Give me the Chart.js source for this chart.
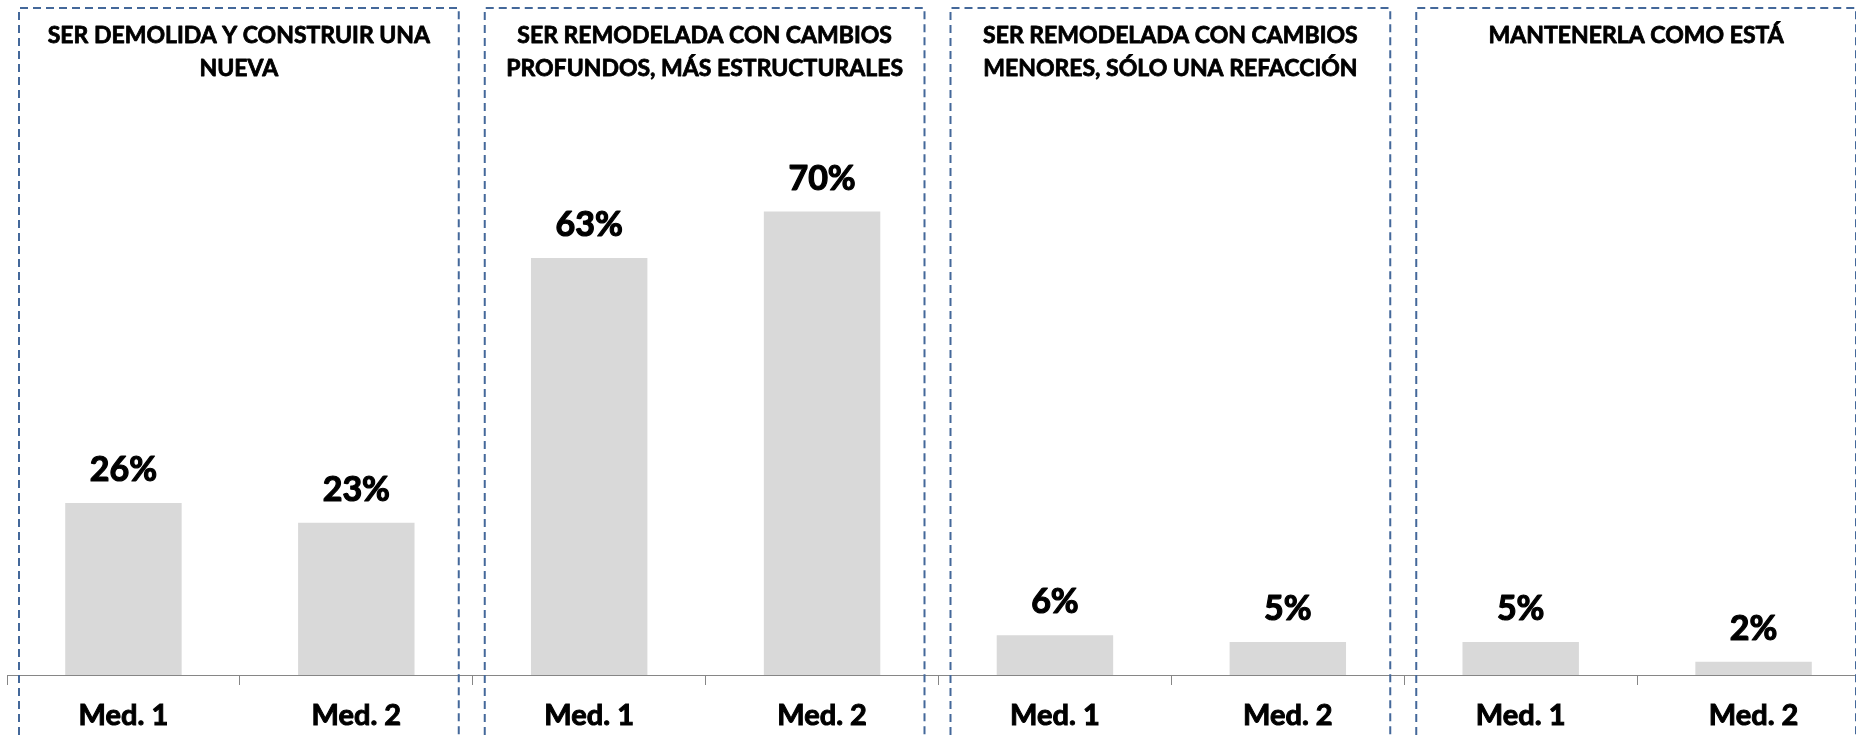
<!DOCTYPE html>
<html>
<head>
<meta charset="utf-8">
<script src="https://cdn.jsdelivr.net/npm/chart.js@4/dist/chart.umd.min.js"></script>
<style>
  html, body { margin: 0; padding: 0; overflow: hidden; background: #ffffff; }
  #wrap { position: relative; width: 1880px; height: 738px; }
</style>
</head>
<body>
<div id="wrap"><canvas id="c" width="1880" height="738"></canvas></div>
<script>
// ---- data ----
const categories = ["Med. 1", "Med. 2", "Med. 1", "Med. 2", "Med. 1", "Med. 2", "Med. 1", "Med. 2"];
const values = [26, 23, 63, 70, 6, 5, 5, 2];
const valueLabels = ["26%", "23%", "63%", "70%", "6%", "5%", "5%", "2%"];
const groupTitles = [
  ["SER DEMOLIDA Y CONSTRUIR UNA", "NUEVA"],
  ["SER REMODELADA CON CAMBIOS", "PROFUNDOS, MÁS ESTRUCTURALES"],
  ["SER REMODELADA CON CAMBIOS", "MENORES, SÓLO UNA REFACCIÓN"],
  ["MANTENERLA COMO ESTÁ"]
];
const groupSize = 2;

const FONT = "Lato, 'Open Sans', sans-serif";

function boldText(ctx, t, x, y, w) {
  ctx.lineWidth = w;
  ctx.strokeStyle = '#000000';
  ctx.lineJoin = 'round';
  ctx.strokeText(t, x, y);
  ctx.fillText(t, x, y);
}

const decorPlugin = {
  id: 'decor',
  afterDatasetsDraw(chart) {
    const ctx = chart.ctx;
    const meta = chart.getDatasetMeta(0);
    ctx.save();
    ctx.fillStyle = '#000000';
    ctx.font = 'bold 34px ' + FONT;
    ctx.textAlign = 'center';
    ctx.textBaseline = 'alphabetic';
    meta.data.forEach((bar, i) => {
      boldText(ctx, valueLabels[i], bar.x, bar.y - 22, 1.2);
    });
    ctx.restore();
  },
  afterDraw(chart) {
    const ctx = chart.ctx;
    const xs = chart.scales.x;
    const catW = xs.getPixelForValue(1) - xs.getPixelForValue(0);
    ctx.save();
    groupTitles.forEach((lines, g) => {
      const left = xs.getPixelForValue(g * groupSize) - catW / 2 + 12;
      const right = xs.getPixelForValue(g * groupSize + groupSize - 1) + catW / 2 - 14;
      ctx.strokeStyle = '#44689a';
      ctx.lineWidth = 2;
      ctx.setLineDash([8, 5]);
      ctx.beginPath();
      ctx.moveTo(left, chart.height + 10);
      ctx.lineTo(left, 8);
      ctx.lineTo(right, 8);
      ctx.lineTo(right, chart.height + 10);
      ctx.stroke();
      ctx.setLineDash([]);
      ctx.fillStyle = '#000000';
      ctx.font = 'bold 23px ' + FONT;
      ctx.textAlign = 'center';
      ctx.textBaseline = 'middle';
      const cx = (left + right) / 2;
      lines.forEach((t, k) => boldText(ctx, t, cx, 36 + k * 33, 0.8));
    });
    ctx.restore();
  }
};

new Chart(document.getElementById('c'), {
  type: 'bar',
  data: {
    labels: categories,
    datasets: [{
      data: values,
      backgroundColor: '#d9d9d9',
      borderWidth: 0,
      barPercentage: 0.5,
      categoryPercentage: 1.0
    }]
  },
  options: {
    responsive: false,
    animation: false,
    devicePixelRatio: 1,
    layout: { padding: { left: 7, right: 10, top: 13, bottom: 0 } },
    plugins: { legend: { display: false }, tooltip: { enabled: false }, title: { display: false } },
    scales: {
      y: { display: false, min: 0, max: 100 },
      x: {
        grid: { offset: true, drawOnChartArea: false, drawTicks: true, tickLength: 10, color: '#868686', lineWidth: 1 },
        border: { display: true, color: '#868686', width: 1 },
        ticks: {
          color: '#000000', font: { family: FONT, weight: 'bold', size: 29 },
          textStrokeColor: '#000000', textStrokeWidth: 1,
          padding: 13, maxRotation: 0, autoSkip: false
        },
        afterFit(s) { s.height = 63; }
      }
    }
  },
  plugins: [decorPlugin]
});
</script>
</body>
</html>
